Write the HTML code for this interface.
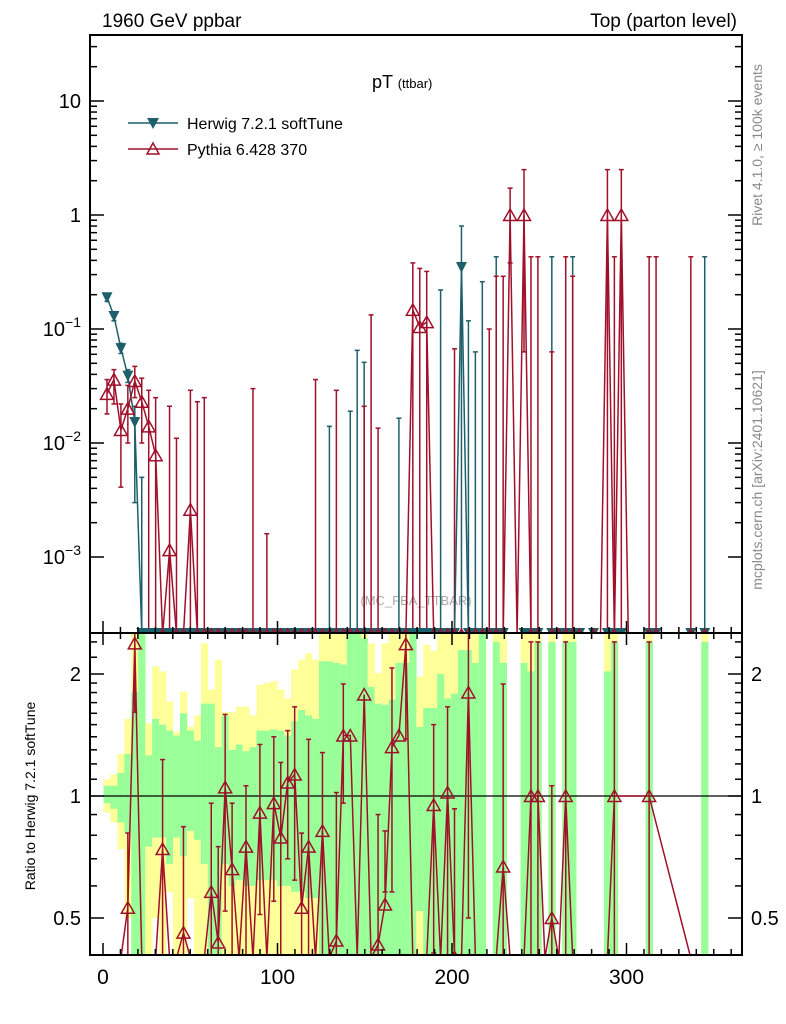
<!DOCTYPE html>
<html><head><meta charset="utf-8"><style>
html,body{margin:0;padding:0;background:#fff;}
svg{display:block;font-family:"Liberation Sans",sans-serif;}
</style></head><body>
<svg id="chart" width="786" height="1024" viewBox="0 0 786 1024" xmlns="http://www.w3.org/2000/svg">
<defs>
<clipPath id="clipTop"><rect x="90" y="35" width="652" height="598"/></clipPath>
<clipPath id="clipRat"><rect x="90" y="633" width="652" height="322"/></clipPath>
</defs>
<text x="102" y="27" font-size="19">1960 GeV ppbar</text>
<text x="737" y="27" font-size="19" text-anchor="end">Top (parton level)</text>
<text x="372" y="88" font-size="18">pT <tspan font-size="13">(ttbar)</tspan></text>
<text x="416" y="605" font-size="13" fill="#aaa" text-anchor="middle">(MC_FBA_TTBAR)</text>
<text transform="translate(762,145) rotate(-90)" font-size="14" fill="#888" text-anchor="middle">Rivet 4.1.0, ≥ 100k events</text>
<text transform="translate(762,480) rotate(-90)" font-size="14" fill="#888" text-anchor="middle">mcplots.cern.ch [arXiv:2401.10621]</text>
<text transform="translate(35,796) rotate(-90)" font-size="14" text-anchor="middle">Ratio to Herwig 7.2.1 softTune</text>
<g>
<line x1="128" y1="123" x2="178" y2="123" stroke="#1d5f6b" stroke-width="1.5"/>
<path d="M147,118 L159,118 L153,129 Z" fill="#1d5f6b"/>
<text x="187" y="129" font-size="16">Herwig 7.2.1 softTune</text>
<line x1="128" y1="149" x2="178" y2="149" stroke="#a0102a" stroke-width="1.5"/>
<path d="M147,154 L159,154 L153,143 Z" fill="none" stroke="#a0102a" stroke-width="1.5"/>
<text x="187" y="155" font-size="16">Pythia 6.428 370</text>
</g>
<g id="bands" clip-path="url(#clipRat)"></g>
<g id="topMarks" clip-path="url(#clipTop)"></g>
<g id="ratMarks" clip-path="url(#clipRat)"></g>
<g id="axes"></g>
</svg>
<script>
// ---------- data ----------
const binStart = 0.3;
const binW = 3.983;
const nBins = 87;
const hwBins = [0,1,2,3,4,51];
const hwVals = [0.19,0.13,0.068,0.039,0.0153,0.35];
const hwHi = [0.205,0.142,0.075,0.044,0.021,0.8];
const hwLo = [0.175,0.118,0.061,0.034,0.003,0];
const hwZeroBins = [5,32,35,36,37,42,48,52,53,54,56,64,67,86];
const hwZeroHi = [0.005,0.014,0.019,0.065,0.051,0.0165,0.22,0.118,0.063,0.26,0.43,0.43,0.43,0.43];
const pyBins = [0,1,2,3,4,5,6,7,9,12,44,45,46,58,60,72,74];
const pyVals = [0.027,0.036,0.013,0.020,0.035,0.023,0.014,0.0078,0.00115,0.0026,0.147,0.104,0.115,1,1,1,1];
const pyHi = [0.036,0.044,0.022,0.032,0.047,0.037,0.029,0.025,0.021,0.029,0.38,0.34,0.32,1.72,2.5,2.5,2.5];
const pyLo = [0.018,0.022,0.0041,0.010,0.025,0.010,0,0,0,0,0,0,0,0.38,0.063,0,0];
const pyZeroBins = [10,13,14,21,23,30,33,37,38,39,50,55,56,57,61,62,64,66,67,73,78,79,84];
const pyZeroHi = [0.011,0.023,0.025,0.030,0.0016,0.036,0.029,0.021,0.133,0.0135,0.067,0.10,0.29,0.29,0.43,0.43,0.063,0.43,0.29,0.43,0.43,0.43,0.43];
const lateMarkBins = [57,60,61,62,64,65,66,67,68,70,72,73,74,78,79,84,86];
// ratio
const rBins = [3,4,8,11,15,16,17,18,20,22,24,25,26,27,28,29,31,33,34,35,37,39,40,41,42,43,47,49,50,52,57,61,62,64,66,73,78];
const rVals = [0.53,2.38,0.74,0.46,0.58,0.435,1.05,0.66,0.75,0.91,0.96,0.79,1.08,1.13,0.53,0.75,0.82,0.44,1.41,1.41,1.78,0.43,0.54,1.32,1.41,2.37,0.95,1.02,0.40,1.8,0.67,1,1,0.5,1,1,1];
const rHi = [0.81,9,1.23,0.84,0.96,0.75,1.59,0.96,1.06,1.34,1.40,1.21,1.45,1.66,0.81,1.38,1.28,1.02,1.89,1.41,1.78,0.90,0.82,2.07,1.41,9,1.50,1.66,0.93,9,1.89,2.4,2.4,1.06,2.4,2.4,2.4];
const rLo = [0,1.61,0,0,0,0,0.52,0,0,0.51,0.55,0,0.70,0.62,0,0,0,0,0.96,1.41,1.78,0,0.58,0.58,1.41,1.38,0.41,0,0,0.50,0,0,0,0,0,0,0];
const rNullBins = [0,1,68,69,70,71,74,75,76,77,79,80,81,82,83,85,86];
// bands (ratio), null = no band
const gHi = [1.06,1.06,1.14,1.27,1.81,3,1.26,1.55,1.50,1.45,1.41,1.60,1.45,1.37,1.69,1.69,1.32,1.58,1.30,1.34,1.29,1.32,1.45,1.45,1.46,1.45,1.41,1.53,1.63,1.58,1.55,2.15,2.15,2.13,2.11,3,3,2.45,1.86,1.69,1.68,1.73,2.13,2.13,
 3,1.48,1.65,1.65,2.0,1.74,1.79,2.29,2.29,2.13,3,null,2.4,2.13,null,null,2.13,2.03,2.4,null,2.4,null,2.4,2.4,null,null,null,null,2.03,2.4,null,null,null,null,2.4,null,null,null,null,null,null,null,2.4];
const yHi = [1.10,1.13,1.27,1.55,3,3,1.51,2.09,2.03,1.71,1.44,1.81,1.48,1.58,2.38,1.83,2.17,1.61,1.61,1.66,1.66,1.58,1.88,1.90,1.92,1.83,1.74,2.05,2.17,2.25,2.17,3,3,3,3,3,3,3,2.38,2.01,2.38,3,3,3,
 3,1.97,2.36,2.28,3,3,3,3,3,3,3,null,3,3,null,null,3,3,3,null,3,null,3,3,null,null,null,null,3,3,null,null,null,null,3,null,null,null,null,null,null,null,3];
const gLo = [0.96,0.93,0.86,0.81,0.3,0.3,0.75,0.79,0.79,0.68,0.79,0.71,0.82,0.78,0.68,0.3,0.3,0.68,0.60,0.62,0.6,0.6,0.62,0.62,0.62,0.6,0.6,0.58,0.58,0.56,0.56,0.3,0.3,0.3,0.3,0.3,0.3,0.3,0.3,0.3,0.3,0.3,0.3,0.3,
 0.3,0.52,0.3,0.3,0.3,0.3,0.3,0.3,0.3,0.3,0.3,null,0.3,0.3,null,null,0.3,0.3,0.3,null,0.3,null,0.3,0.3,null,null,null,null,0.3,0.3,null,null,null,null,0.3,null,null,null,null,null,null,null,0.3];
const yLo = [0.91,0.86,0.74,0.50,0.3,0.3,0.3,0.50,0.3,0.58,0.3,0.3,0.56,0.3,0.3,0.3,0.3,0.3,0.3,0.3,0.3,0.3,0.3,0.3,0.3,0.3,0.3,0.3,0.3,0.3,0.3,0.3,0.3,0.3,0.3,0.3,0.3,0.3,0.3,0.3,0.3,0.3,0.3,0.3,
 0.3,0.3,0.3,0.3,0.3,0.3,0.3,0.3,0.3,0.3,0.3,null,0.3,0.3,null,null,0.3,0.3,0.3,null,0.3,null,0.3,0.3,null,null,null,null,0.3,0.3,null,null,null,null,0.3,null,null,null,null,null,null,null,0.3];
const xTicks = [0,100,200,300];
const yTopDecades = [0.001,0.01,0.1,1,10];
const ratioTicks = [0.5,1,2];

// ---------- scales ----------
const NS = "http://www.w3.org/2000/svg";
const X0 = 90, X1 = 742, TT = 35, TB = 633, RB = 955;
const HW = "#1d5f6b", PY = "#a0102a";
function xS(v){ return 103 + 1.745*v; }
function binC(i){ return xS(binStart + binW*(i+0.5)); }
function binL(i){ return xS(binStart + binW*i); }
function yT(v){ if(v<=0) return TB+3; return 215 - 114*Math.log10(v); }
function yR(r){ if(r<=0) return RB+3; if(r>=9) return TT+596; return 796 - 176*Math.log(r); }
function mk(tag, attrs, parent){ const e=document.createElementNS(NS,tag); for(const k in attrs) e.setAttribute(k,attrs[k]); parent.appendChild(e); return e; }

const bandsG = document.getElementById('bands');
const topG = document.getElementById('topMarks');
const ratG = document.getElementById('ratMarks');
const axG = document.getElementById('axes');

// ---------- bands ----------
for(let i=0;i<nBins;i++){
  if(yHi[i]!=null){
    const r = mk('rect',{x:binL(i),y:yR(yHi[i]),width:binL(i+1)-binL(i)+0.3,height:yR(yLo[i])-yR(yHi[i]),fill:'#ffff99'},bandsG);
    
    
  }
  if(gHi[i]!=null){
    const r = mk('rect',{x:binL(i),y:yR(gHi[i]),width:binL(i+1)-binL(i)+0.3,height:yR(gLo[i])-yR(gHi[i]),fill:'#99ff99'},bandsG);
    
    
  }
}
mk('line',{x1:X0,y1:796,x2:X1,y2:796,stroke:'#000','stroke-width':1.3},bandsG);

// ---------- helpers ----------
function errBar(g, x, y1, y2, col){
  mk('line',{x1:x,y1:y1,x2:x,y2:y2,stroke:col,'stroke-width':1.5},g);
  mk('line',{x1:x-2.5,y1:y1,x2:x+2.5,y2:y1,stroke:col,'stroke-width':1.5},g);
  mk('line',{x1:x-2.5,y1:y2,x2:x+2.5,y2:y2,stroke:col,'stroke-width':1.5},g);
}
function downTri(g,x,y){ const p=mk('path',{d:`M${x-5.5},${y-5} L${x+5.5},${y-5} L${x},${y+6} Z`,fill:HW},g);   }
function upTri(g,x,y){ const p=mk('path',{d:`M${x-6.5},${y+5.5} L${x+6.5},${y+5.5} L${x},${y-6} Z`,fill:'none',stroke:PY,'stroke-width':1.5},g);   }

// ---------- top panel ----------
function fullSeries(bins, vals){ const a=new Array(nBins).fill(0); bins.forEach((b,k)=>a[b]=vals[k]); return a; }
const hwAll = fullSeries(hwBins,hwVals);
const pyAll = fullSeries(pyBins,pyVals);
function drawLine(g, arr, col, name){
  let d=''; arr.forEach((v,i)=>{ d += (i? 'L':'M') + binC(i).toFixed(1)+','+(v>0?yT(v):TB+1).toFixed(1)+' '; });
  const p = mk('path',{d:d,fill:'none',stroke:col,'stroke-width':1.5},g);
  
  
}
hwZeroBins.forEach((b,k)=>errBar(topG,binC(b),yT(hwZeroHi[k]),TB+3,HW));
pyZeroBins.forEach((b,k)=>errBar(topG,binC(b),yT(pyZeroHi[k]),TB+3,PY));
hwBins.forEach((b,k)=>errBar(topG,binC(b),yT(hwHi[k]),yT(hwLo[k]),HW));
pyBins.forEach((b,k)=>errBar(topG,binC(b),yT(pyHi[k]),yT(pyLo[k]),PY));
drawLine(topG, hwAll, HW, 'herwig-line');
drawLine(topG, pyAll, PY, 'pythia-line');
for(let i=0;i<nBins;i++){
  const show = (i<=56) || lateMarkBins.includes(i);
  if(hwAll[i]>0) downTri(topG,binC(i),yT(hwAll[i])); else if(show) downTri(topG,binC(i),TB);
}
for(let i=0;i<nBins;i++){
  const show = (i<=56) || lateMarkBins.includes(i);
  if(pyAll[i]>0) upTri(topG,binC(i),yT(pyAll[i])); else if(show) upTri(topG,binC(i),TB+2);
}

// ---------- ratio panel ----------
rBins.forEach((b,k)=>{ if(rHi[k]!==rLo[k]) errBar(ratG,binC(b),yR(rHi[k]),yR(rLo[k]),PY); });
const rAll = new Array(nBins).fill(0);
rBins.forEach((b,k)=>rAll[b]=rVals[k]);
rNullBins.forEach(b=>rAll[b]=null);
let rd=''; let first=true;
rAll.forEach((v,i)=>{ if(v===null) return; rd += (first?'M':'L')+binC(i).toFixed(1)+','+yR(v).toFixed(1)+' '; first=false; });
const rl = mk('path',{d:rd,fill:'none',stroke:PY,'stroke-width':1.5},ratG);


rBins.forEach((b,k)=>upTri(ratG,binC(b),yR(rVals[k])));

// ---------- axes ----------
mk('rect',{x:X0,y:TT,width:X1-X0,height:TB-TT,fill:'none',stroke:'#000','stroke-width':2},axG);
mk('rect',{x:X0,y:TB,width:X1-X0,height:RB-TB,fill:'none',stroke:'#000','stroke-width':2},axG);
for(let v=0; xS(v)<X1; v+=10){
  const major = v%100===0, len = major?12:6;
  [TB, RB].forEach(yb=>{
    mk('line',{x1:xS(v),y1:yb,x2:xS(v),y2:yb-len,stroke:'#000','stroke-width':1.5},axG);
  });
  mk('line',{x1:xS(v),y1:TB,x2:xS(v),y2:TB+len,stroke:'#000','stroke-width':1.5},axG);
}
xTicks.forEach(v=>{
  const t = mk('text',{x:xS(v),y:984,'font-size':21,'text-anchor':'middle'},axG);
  t.textContent = String(v);
  
  
});
yTopDecades.forEach((d,k)=>{
  for(let m=1;m<10;m++){
    const v=d*m, y=yT(v);
    if(y<TT||y>TB) continue;
    const len = m===1?14:7;
    mk('line',{x1:X0,y1:y,x2:X0+len,y2:y,stroke:'#000','stroke-width':1.5},axG);
    mk('line',{x1:X1,y1:y,x2:X1-len,y2:y,stroke:'#000','stroke-width':1.5},axG);
  }
  const y=yT(d);
  const t = mk('text',{x:81,y:y+7,'font-size':20,'text-anchor':'end'},axG);
  
  
  const e = Math.round(Math.log10(d));
  if(e===0) t.textContent='1';
  else if(e===1) t.textContent='10';
  else { t.textContent='10'; const s=mk('tspan',{'font-size':14,dy:-9},t); s.textContent='−'+(-e); }
});
const rMinor=[0.5,0.6,0.7,0.8,0.9,1,1.1,1.2,1.3,1.4,1.5,1.6,1.7,1.8,1.9,2,2.2,2.4];
rMinor.forEach(v=>{
  const y=yR(v); const len = ratioTicks.includes(v)?14:7;
  mk('line',{x1:X0,y1:y,x2:X0+len,y2:y,stroke:'#000','stroke-width':1.5},axG);
  mk('line',{x1:X1,y1:y,x2:X1-len,y2:y,stroke:'#000','stroke-width':1.5},axG);
});
ratioTicks.forEach(v=>{
  const y=yR(v);
  const t = mk('text',{x:81,y:y+7,'font-size':20,'text-anchor':'end'},axG);
  t.textContent=String(v);
  
  
  const t2 = mk('text',{x:751,y:y+7,'font-size':20},axG);
  t2.textContent=String(v);
  
  
});
</script>
</body></html>
